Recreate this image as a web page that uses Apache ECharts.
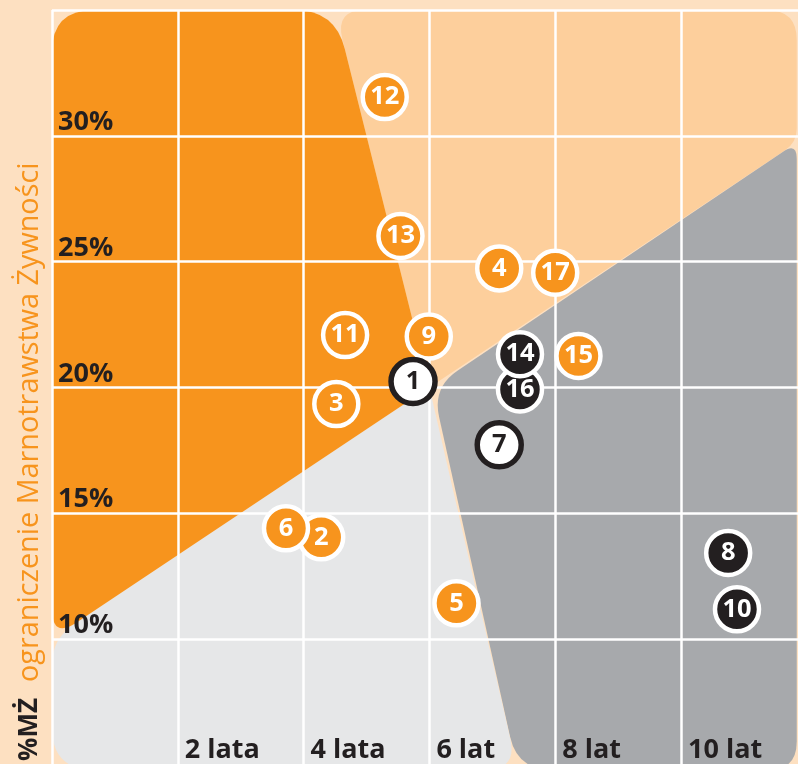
<!DOCTYPE html>
<html>
<head>
<meta charset="utf-8">
<script src="https://cdn.jsdelivr.net/npm/echarts@6/dist/echarts.min.js"></script>
<style>
html,body{margin:0;padding:0;background:#fde0c1;}
#chart{width:798px;height:764px;}
</style>
</head>
<body>
<div id="chart"></div>
<script>
// ---- data ----
const xTickValues = [2, 4, 6, 8, 10];
const xTickLabels = ['2 lata', '4 lata', '6 lat', '8 lat', '10 lat'];
const yTickValues = [10, 15, 20, 25, 30];
const yTickLabels = ['10%', '15%', '20%', '25%', '30%'];

const markerIds  = [12, 13, 4, 17, 11, 9, 15, 3, 2, 6, 5, 1, 7, 16, 14, 8, 10];
const markerX    = [5.29, 5.54, 7.11, 8.00, 4.66, 5.99, 8.37, 4.52, 4.28, 3.72, 6.43, 5.74, 7.11, 7.44, 7.44, 10.75, 10.89];
const markerY    = [31.54, 26.02, 24.73, 24.56, 22.08, 22.02, 21.25, 19.34, 14.04, 14.40, 11.42, 20.23, 17.72, 19.92, 21.32, 13.42, 11.18];
const markerKind = ['o','o','o','o','o','o','o','o','o','o','o','w','w','b','b','b','b'];

// background zones (years, %)
const zoneOrange = [[0, 35], [4.5, 35], [6, 20], [0, 10]];
const zonePeach  = [[4.5, 35], [11.84, 35], [11.84, 29.73], [6, 20]];
const zoneDark   = [[6.05, 20], [11.84, 29.73], [11.84, 4.8], [7.4, 4.8]];
const zoneLight  = [[0, 10], [6, 20], [7.4, 4.8], [0, 4.8]];

const axisTitleBold = '%MŻ';
const axisTitle = 'ograniczenie Marnotrawstwa Żywności';

// ---- styles ----
const C_BG = '#fde0c1', C_PEACH = '#fdcf9c', C_ORANGE = '#f7941d',
      C_LIGHT = '#e6e7e8', C_DARK = '#a7a9ac', C_BLACK = '#231f20';

const zones = [
  {pts: zonePeach,  fill: C_PEACH,  r: [30, 30, 14, 8]},
  {pts: zoneDark,   fill: C_DARK,   r: [30, 16, 28, 34]},
  {pts: zoneLight,  fill: C_LIGHT,  r: [26, 4, 32, 42]},
  {pts: zoneOrange, fill: C_ORANGE, r: [42, 40, 4, 30]}
];

function roundedPath(p, r) {
  const n = p.length;
  const pts = [];
  for (let i = 0; i < n; i++) {
    const P = p[i], A = p[(i - 1 + n) % n], B = p[(i + 1) % n];
    const la = Math.hypot(A[0] - P[0], A[1] - P[1]);
    const lb = Math.hypot(B[0] - P[0], B[1] - P[1]);
    const rr = Math.min(r[i], la / 2, lb / 2);
    const P1 = [P[0] + (A[0] - P[0]) / la * rr, P[1] + (A[1] - P[1]) / la * rr];
    const P2 = [P[0] + (B[0] - P[0]) / lb * rr, P[1] + (B[1] - P[1]) / lb * rr];
    pts.push([P1, P, P2]);
  }
  let d = 'M' + pts[n - 1][2][0] + ' ' + pts[n - 1][2][1];
  for (let i = 0; i < n; i++) {
    d += ' L' + pts[i][0][0] + ' ' + pts[i][0][1] +
         ' Q' + pts[i][1][0] + ' ' + pts[i][1][1] + ' ' + pts[i][2][0] + ' ' + pts[i][2][1];
  }
  return d + ' Z';
}

const kindStyle = {
  o: {fill: C_ORANGE, border: '#ffffff', text: '#ffffff'},
  b: {fill: C_BLACK, border: '#ffffff', text: '#ffffff'},
  w: {fill: '#ffffff', border: C_BLACK, text: C_BLACK}
};

const markerData = markerIds.map((id, i) => {
  const s = kindStyle[markerKind[i]];
  return {
    value: [markerX[i], markerY[i]],
    name: String(id),
    itemStyle: {color: s.fill, borderColor: s.border, borderWidth: markerKind[i] === 'w' ? 5.5 : 4.5, opacity: 1},
    label: {color: s.text}
  };
});

const chart = echarts.init(document.getElementById('chart'), null, {renderer: 'canvas'});
chart.setOption({
  backgroundColor: C_BG,
  animation: false,
  grid: {left: 52, top: 10, width: 754.8, height: 754.8, outerBoundsMode: 'none', containLabel: false},
  xAxis: {
    type: 'value', min: 0, max: 12, interval: 2,
    axisLine: {show: false}, axisTick: {show: false},
    splitLine: {show: true, lineStyle: {color: '#ffffff', width: 2.5}},
    axisLabel: {
      inside: true, align: 'left', verticalAlign: 'bottom', margin: 1, padding: [0, 0, 0, 7],
      fontFamily: 'Open Sans', fontWeight: 'bold', fontSize: 27, color: C_BLACK,
      formatter: v => { const k = xTickValues.indexOf(v); return k >= 0 ? xTickLabels[k] : ''; }
    }
  },
  yAxis: {
    type: 'value', min: 5, max: 35, interval: 5,
    axisLine: {show: false}, axisTick: {show: false},
    splitLine: {show: true, lineStyle: {color: '#ffffff', width: 2.5}},
    axisLabel: {
      inside: true, align: 'left', verticalAlign: 'bottom', margin: 6, padding: [0, 0, 0, 0],
      fontFamily: 'Open Sans', fontWeight: 'bold', fontSize: 27, color: C_BLACK,
      formatter: v => { const k = yTickValues.indexOf(v); return k >= 0 ? yTickLabels[k] : ''; }
    }
  },
  graphic: [{
    type: 'text', x: 30, y: 761, rotation: Math.PI / 2,
    style: {
      text: '{a|' + axisTitleBold + '}{b|' + axisTitle + '}',
      align: 'left', verticalAlign: 'middle',
      rich: {
        a: {fontFamily: 'Open Sans', fontWeight: 'bold', fontSize: 26, fill: C_BLACK, color: C_BLACK},
        b: {fontFamily: 'Open Sans', fontWeight: 'normal', fontSize: 28.8, fill: C_ORANGE, color: C_ORANGE, padding: [0, 0, 0, 16]}
      }
    }
  }],
  series: [
    {
      type: 'custom', z: -1, silent: true,
      data: zones.map((z, i) => [i]),
      renderItem: (params, api) => {
        const z = zones[params.dataIndex];
        const px = z.pts.map(p => api.coord(p));
        return {type: 'path', shape: {pathData: roundedPath(px, z.r)}, style: {fill: z.fill}};
      }
    },
    {
      type: 'scatter', z: 5, symbol: 'circle', symbolSize: 44,
      itemStyle: {opacity: 1},
      data: markerData,
      label: {
        show: true, position: 'inside', formatter: p => p.name,
        fontFamily: 'Open Sans', fontWeight: 'bold', fontSize: 25.5
      }
    }
  ]
});
</script>
</body>
</html>
